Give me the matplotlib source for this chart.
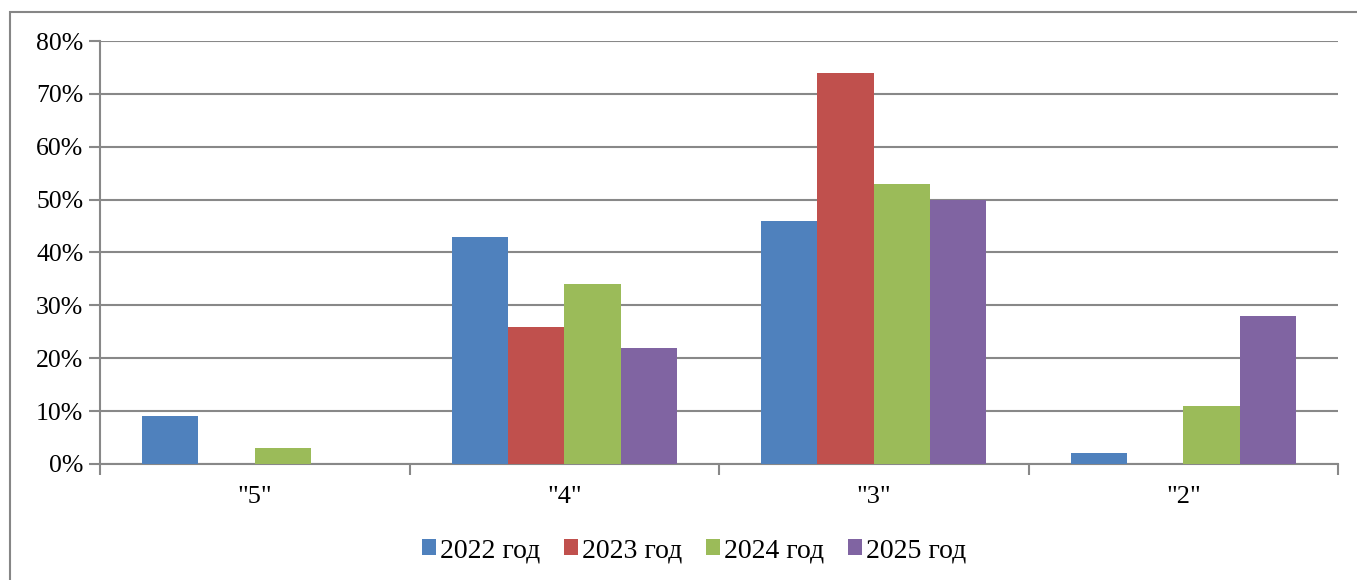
import numpy as np
import matplotlib.pyplot as plt
from matplotlib.patches import Rectangle

## data
categories = ['"5"', '"4"', '"3"', '"2"']
years = ["2022 год", "2023 год", "2024 год", "2025 год"]
v2022 = [9, 43, 46, 2]
v2023 = [0, 26, 74, 0]
v2024 = [3, 34, 53, 11]
v2025 = [0, 22, 50, 28]
colors = ["#4F81BD", "#C0504D", "#9BBB59", "#8064A2"]

plt.rcParams['font.family'] = ['Liberation Serif', 'DejaVu Serif']

fig = plt.figure(figsize=(13.57, 5.8), dpi=100)
ax = fig.add_axes([100 / 1357, 1 - 464 / 580, 1238 / 1357, 423 / 580])

## outer chart border
fig.patches.append(Rectangle((10 / 1357, -0.1), 1.2, 1 - 12 / 580 + 0.1,
                             transform=fig.transFigure, fill=False,
                             edgecolor="#868686", linewidth=1.5))

x = np.arange(len(categories))
width = 1 / 5.5
series = [v2022, v2023, v2024, v2025]
for i, vals in enumerate(series):
    ax.bar(x + (i - 1.5) * width, vals, width, color=colors[i],
           label=years[i], zorder=3)

ax.set_xlim(-0.5, 3.5)
ax.set_ylim(0, 80)
ax.set_yticks(np.arange(0, 81, 10))
ax.set_yticklabels(["{}%".format(t) for t in range(0, 81, 10)], fontsize=18.5)
ax.yaxis.grid(True, color="#888888", linewidth=1.5, zorder=0)

ax.set_xticks(x)
ax.set_xticklabels(categories, fontsize=19)
ax.tick_params(axis="x", length=0, pad=16)
ax.set_xticks(np.arange(-0.5, 4, 1), minor=True)
ax.tick_params(axis="x", which="minor", length=8, width=1.5, color="#888888")
ax.tick_params(axis="y", length=8, width=1.5, color="#888888", pad=4)

for side in ["top", "right"]:
    ax.spines[side].set_visible(False)
for side in ["left", "bottom"]:
    ax.spines[side].set_color("#888888")
    ax.spines[side].set_linewidth(1.5)

ax.legend(loc="center", bbox_to_anchor=(0.48, -0.205), ncol=4, frameon=False,
          fontsize=20, handlelength=0.5, handleheight=0.5, handletextpad=0.15,
          columnspacing=0.85)

fig.savefig("out.png", dpi=100)
